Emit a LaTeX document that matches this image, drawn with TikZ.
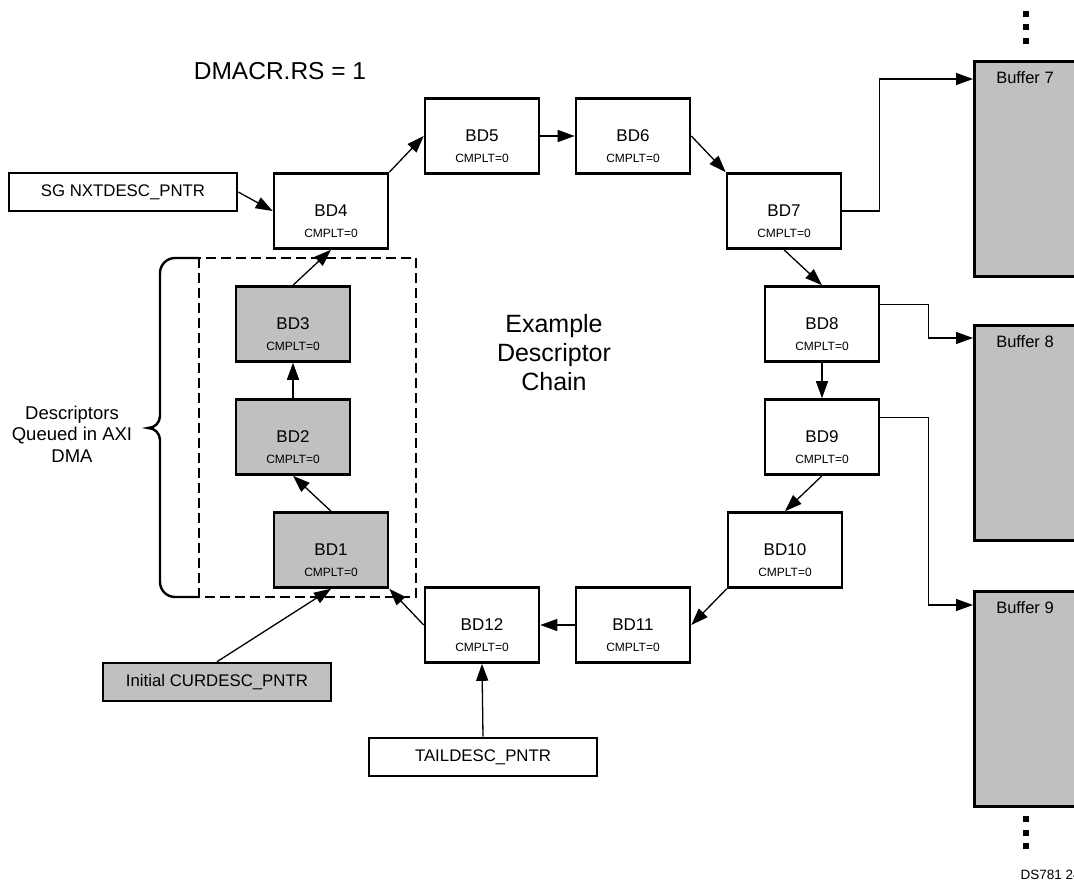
\documentclass[tikz,border=0pt]{standalone}
\usepackage{fontspec}
\setmainfont{Liberation Sans}
\usetikzlibrary{arrows.meta, calc}
\definecolor{bdgray}{RGB}{192,192,192}

\begin{document}
\begin{tikzpicture}[x=1pt, y=-1pt,
        bd/.style={draw, line width=2.6pt, minimum width=114pt, minimum height=75pt, inner sep=0pt,
            font=\fontsize{17}{19}\selectfont,
            label={[font=\fontsize{12}{14}\selectfont, yshift=-22pt]center:CMPLT=0}},
        queued/.style={bd, fill=bdgray},
        pntr/.style={draw, line width=2.6pt, minimum width=228pt, minimum height=38pt, inner sep=0pt,
            font=\fontsize{16.8}{18}\selectfont},
        buffer/.style={draw, fill=bdgray, line width=2.8pt, minimum width=140pt, minimum height=215pt,
            inner sep=0pt, anchor=north west},
        buftext/.style={font=\fontsize{16.5}{18}\selectfont},
        arr/.style={-{Triangle[length=17pt, width=12pt]}, line width=1.3pt},
        dotbox/.style={fill, minimum size=6pt, inner sep=0pt}]
    \useasboundingbox (0,0) rectangle (1074,883);
    \clip (0,0) rectangle (1074,883);

    \node[buffer] (buf7) at (973,60) {};
    \node[buffer] (buf8) at (973,324) {};
    \node[buffer] (buf9) at (973,590) {};
    \node[buftext] (b7) at (1025,78) {Buffer 7};
    \node[buftext] (b8) at (1025,342) {Buffer 8};
    \node[buftext] (b9) at (1025,608) {Buffer 9};
    \foreach \y [count=\i] in {14,27.5,41} \node[dotbox] (up\i) at (1026,\y) {};
    \foreach \y [count=\i] in {819,832.5,846} \node[dotbox] (dn\i) at (1026,\y) {};

    \draw[line width=2.6pt, dash pattern=on 10pt off 5pt] (199,258) rectangle (416,597);
    \draw[line width=2.4pt] (199,258) -- (175,258) arc[start angle=270, end angle=180, radius=15]
        -- (160,416) arc[start angle=0, end angle=90, radius=12]
        arc[start angle=270, end angle=360, radius=12]
        -- (160,582) arc[start angle=180, end angle=90, radius=15] -- (199,597);

    \node[queued] (BD1) at (331,550) {BD1};
    \node[queued] (BD2) at (293,437) {BD2};
    \node[queued] (BD3) at (293,324) {BD3};
    \node[bd] (BD4) at (331,211) {BD4};
    \node[bd] (BD5) at (482,136) {BD5};
    \node[bd] (BD6) at (633,136) {BD6};
    \node[bd] (BD7) at (784,211) {BD7};
    \node[bd] (BD8) at (822,324) {BD8};
    \node[bd] (BD9) at (822,437) {BD9};
    \node[bd] (BD10) at (785,550) {BD10};
    \node[bd] (BD11) at (633,625) {BD11};
    \node[bd] (BD12) at (482,625) {BD12};

    \node[pntr] (sg) at (123,192) {SG NXTDESC\_PNTR};
    \node[pntr, fill=bdgray] (init) at (217,682) {Initial CURDESC\_PNTR};
    \node[pntr] (tail) at (483,757) {TAILDESC\_PNTR};

    \node[font=\fontsize{24.5}{26}\selectfont] (rs) at (280,71) {DMACR.RS = 1};
    \node[font=\fontsize{25}{29}\selectfont, align=center] (chain) at (554,353) {Example\\Descriptor\\Chain};
    \node[font=\fontsize{18.5}{21.5}\selectfont, align=center] (queue) at (72,434) {Descriptors\\Queued in AXI\\DMA};
    \node[font=\fontsize{13.5}{15}\selectfont, anchor=base west] (ds) at (1017,879) {DS781 24};

    \draw[arr] (sg.east) -- (BD4.west);
    \draw[arr] (BD4.north east) -- (BD5.west);
    \draw[arr] (BD5.east) -- (BD6.west);
    \draw[arr] (BD6.east) -- (BD7.north west);
    \draw[arr] (BD7.south) -- (BD8.north);
    \draw[arr] (BD8.south) -- (BD9.north);
    \draw[arr] (BD9.south) -- (BD10.north);
    \draw[arr] (BD10.south west) -- (BD11.east);
    \draw[arr] (BD11.west) -- (BD12.east);
    \draw[arr] (BD12.west) -- (BD1.south east);
    \draw[arr] (BD1.north) -- (BD2.south);
    \draw[arr] (BD2.north) -- (BD3.south);
    \draw[arr] (BD3.north) -- (BD4.south);
    \draw[arr] (init.north) -- (BD1.south);
    \draw[arr] (tail.north) -- (BD12.south);

    \draw[arr] (BD7.east) -- ++(37,0) |- ([yshift=-19pt]buf7.north west);
    \draw[arr] ([yshift=-19pt]BD8.north east) -- ++(48,0) |- ([yshift=-14pt]buf8.north west);
    \draw[arr] ([yshift=-19pt]BD9.north east) -- ++(48,0) |- ([yshift=-15pt]buf9.north west);
\end{tikzpicture}
\end{document}
